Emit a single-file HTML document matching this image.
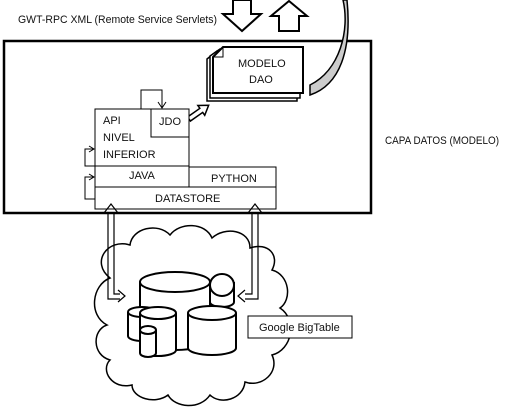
<!DOCTYPE html>
<html><head><style>
html,body{margin:0;padding:0;background:#fff;width:527px;height:417px;overflow:hidden}
svg text{font-family:"Liberation Sans",sans-serif;font-size:11px;fill:#111}
</style></head><body>
<svg width="527" height="417" viewBox="0 0 527 417" xmlns="http://www.w3.org/2000/svg">
<text x="18" y="23" textLength="199" lengthAdjust="spacingAndGlyphs">GWT-RPC XML (Remote Service Servlets)</text>
<!-- down arrow -->
<path d="M233 0 L251 0 L251 14 L261 14 L242 31 L223 14 L233 14 Z" fill="#fff" stroke="#000" stroke-width="2"/>
<!-- up arrow -->
<path d="M279 31 L299 31 L299 16 L307 16 L289 1 L271 16 L279 16 Z" fill="#fff" stroke="#000" stroke-width="2"/>
<!-- main rect -->
<rect x="4" y="41" width="367" height="172" fill="none" stroke="#000" stroke-width="2.5"/>
<text x="385" y="144" textLength="114" lengthAdjust="spacingAndGlyphs">CAPA DATOS (MODELO)</text>
<!-- curved arrow -->
<path d="M343 0 C350 30 340 70 310 85 L310 95 C340 85 352 50 347 0 Z" fill="#ccc" stroke="#000" stroke-width="1.5"/>
<!-- stacked pages -->
<path d="M207 59 L217 51 L297 51 L297 101 L207 101 Z" fill="#fff" stroke="#000" stroke-width="1.5"/>
<path d="M210 56 L220 49 L300 49 L300 98 L210 98 Z" fill="#fff" stroke="#000" stroke-width="1.5"/>
<path d="M213 57 L223 47 L303 47 L303 93 L213 93 Z" fill="#fff" stroke="#000" stroke-width="2"/>
<path d="M213 57 L223 57 L223 47" fill="none" stroke="#000" stroke-width="1"/>
<text x="238" y="67">MODELO</text>
<text x="249" y="83">DAO</text>
<!-- block arrow to stack -->
<g transform="translate(189,119) rotate(-35)">
<path d="M0 -2.5 L15 -2.5 L15 -6 L24 0 L15 6 L15 2.5 L0 2.5 Z" fill="#fff" stroke="#000" stroke-width="1.5"/>
</g>
<!-- API box -->
<rect x="95" y="109" width="94" height="57" fill="#fff" stroke="#000" stroke-width="1"/>
<rect x="151" y="109" width="38" height="28" fill="#fff" stroke="#000" stroke-width="1"/>
<text x="103" y="124">API</text>
<text x="103" y="141">NIVEL</text>
<text x="103" y="158">INFERIOR</text>
<text x="159" y="125">JDO</text>
<path d="M141 109 L141 90 L162 90 L162 108" fill="none" stroke="#000" stroke-width="1"/>
<path d="M158 102 L162 108 L166 102" fill="none" stroke="#000" stroke-width="1"/>
<!-- rows -->
<rect x="95" y="166" width="94" height="21" fill="#fff" stroke="#000" stroke-width="1"/>
<rect x="189" y="167" width="87" height="20" fill="#fff" stroke="#000" stroke-width="1"/>
<rect x="95" y="187" width="181" height="22" fill="#fff" stroke="#000" stroke-width="1"/>
<text x="129" y="179">JAVA</text>
<text x="211" y="182">PYTHON</text>
<text x="155" y="202">DATASTORE</text>
<!-- left loops -->
<path d="M95 166 L85 166 L85 149 L94 149 M89 146 L94 149 L89 152" fill="none" stroke="#000" stroke-width="1"/>
<path d="M95 199 L85 199 L85 177 L94 177 M89 174 L94 177 L89 180" fill="none" stroke="#000" stroke-width="1"/>
<!-- cloud -->
<path d="M110 278 C90 262 108 238 130 245 C132 228 158 222 170 235 C180 222 205 222 212 238 C225 226 250 230 250 248 C268 242 280 255 272 270 C290 275 292 300 280 308 C298 320 292 350 272 355 C280 372 262 388 245 382 C243 400 220 405 210 395 C200 410 175 408 168 395 C155 405 132 398 132 385 C112 390 100 370 110 360 C92 355 92 330 107 325 C88 315 92 285 110 278 Z" fill="#fff" stroke="#000" stroke-width="1.5"/>
<!-- cylinders -->
<g fill="#fff" stroke="#000" stroke-width="2">
<path d="M140 282 L140 340 A35 10 0 0 0 210 340 L210 282"/><ellipse cx="175" cy="282" rx="35" ry="10"/>
<path d="M210 282 L210 302 A12 5 0 0 0 234 302 L234 282"/><ellipse cx="222" cy="285" rx="12" ry="11"/>
<path d="M128 312 L128 336 A14 5 0 0 0 156 336 L156 312"/><ellipse cx="142" cy="312" rx="14" ry="5"/>
<path d="M140 313 L140 350 A18 6 0 0 0 176 350 L176 313"/><ellipse cx="158" cy="313" rx="18" ry="6"/>
<path d="M140 330 L140 353 A8 4 0 0 0 156 353 L156 330"/><ellipse cx="148" cy="330" rx="8" ry="4"/>
<path d="M188 313 L188 348 A24 7 0 0 0 236 348 L236 313"/><ellipse cx="212" cy="313" rx="24" ry="7"/>
</g>
<!-- vertical double arrows -->
<g fill="none" stroke="#000" stroke-width="1.2">
<path d="M108 212 L108 299 L120 299 M114 212 L114 294 L120 294"/>
<path d="M104 213 L111 204 L118 213 M118 290 L125 296 L118 302"/>
<path d="M252 212 L252 294 L245 294 M258 212 L258 299 L245 299"/>
<path d="M248 213 L255 204 L262 213 M245 290 L238 296 L245 302"/>
</g>
<rect x="248" y="316" width="104" height="22" fill="#fff" stroke="#000" stroke-width="1"/>
<text x="259" y="331">Google BigTable</text>
</svg>
</body></html>
